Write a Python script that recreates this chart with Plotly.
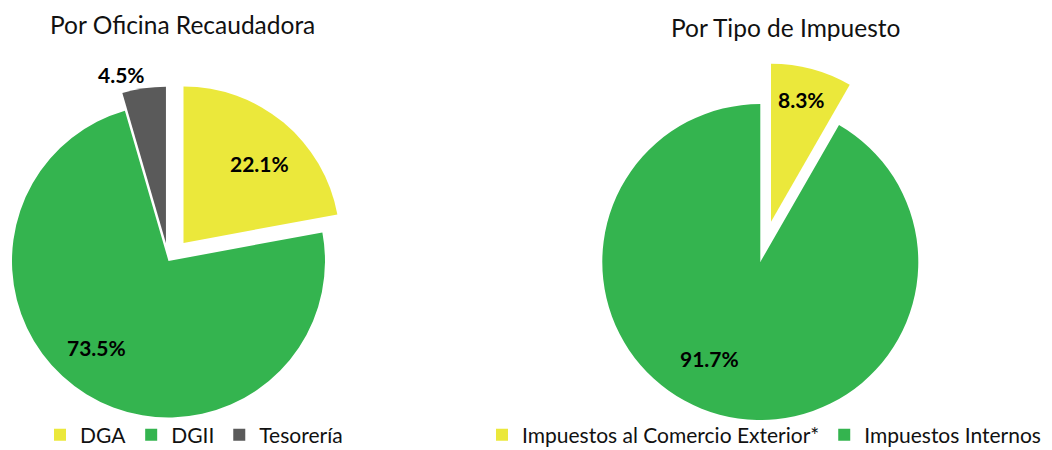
import math
import plotly.graph_objects as go

W, H = 1052, 450

# ---- data ----
oficina_title = "Por Oficina Recaudadora"
oficina_labels = ["DGA", "DGII", "Tesorería"]
oficina_values = [22.1, 73.5, 4.5]

tipo_title = "Por Tipo de Impuesto"
tipo_labels = ["Impuestos al Comercio Exterior*", "Impuestos Internos"]
tipo_values = [8.3, 91.7]

# ---- style ----
YELLOW, GREEN, GRAY = "#EBE83B", "#34B44F", "#5A5A5A"
oficina_colors = [YELLOW, GREEN, GRAY]
tipo_colors = [YELLOW, GREEN]
oficina_pull = [0.15, 0.0, 0.115]
tipo_pull = [0.263, 0.0]
# label placement relative to each slice's own vertex: (radius fraction, angle clockwise from 12 o'clock)
oficina_label_pos = [(0.705, 43.6), (0.717, 219.9), (1.117, 345.4)]
tipo_label_pos = [(0.795, 14.05), (0.689, 208.1)]

FONT = "Lato"
LABEL_FONT = dict(family=FONT, size=21, color="#000000", weight="bold")

fig = go.Figure()
annotations = []


def domain_for(cx, cy, r):
    return dict(x=[(cx - r) / W, (cx + r) / W], y=[1 - (cy + r) / H, 1 - (cy - r) / H])


def add_pie(labels, values, colors, pulls, label_pos, cx, cy, r, legend_name):
    """Each slice is its own pie trace so that pulled slices keep the full radius."""
    total = sum(values)
    start = 0.0
    for lab, v, col, p, (lf, la) in zip(labels, values, colors, pulls, label_pos):
        span = 360.0 * v / total
        mid = math.radians(start + span / 2)
        vx = cx + p * r * math.sin(mid)
        vy = cy - p * r * math.cos(mid)
        fig.add_trace(go.Pie(
            labels=[lab, lab + " (resto)"],
            values=[v, total - v],
            marker=dict(colors=[col, "rgba(0,0,0,0)"], line=dict(width=0)),
            textinfo="none",
            sort=False,
            direction="clockwise",
            rotation=start,
            domain=domain_for(vx, vy, r),
            showlegend=False,
            hoverinfo="skip",
        ))
        a = math.radians(la)
        annotations.append(dict(
            text=f"{v:.1f}%", xref="paper", yref="paper",
            x=(vx + lf * r * math.sin(a)) / W, y=1 - (vy - lf * r * math.cos(a)) / H,
            showarrow=False, font=LABEL_FONT, xanchor="center", yanchor="middle"))
        start += span
    # legend carrier (zero-size pie with the real colours)
    fig.add_trace(go.Pie(
        labels=labels, values=values,
        marker=dict(colors=colors),
        textinfo="none", sort=False, hoverinfo="skip",
        domain=domain_for(cx - r * 0.5, cy + r * 0.5, 0.001),
        showlegend=True, legend=legend_name,
    ))


add_pie(oficina_labels, oficina_values, oficina_colors, oficina_pull, oficina_label_pos,
        168.5, 261, 156.5, "legend")
add_pie(tipo_labels, tipo_values, tipo_colors, tipo_pull, tipo_label_pos,
        760.3, 262, 158, "legend2")

legend_common = dict(orientation="h", font=dict(family=FONT, size=21, color="#111111"),
                     bgcolor="rgba(0,0,0,0)", yanchor="middle", y=1 - 435 / H,
                     itemclick=False, itemdoubleclick=False)

for txt, x, y in [(oficina_title, 182, 24), (tipo_title, 785.5, 27)]:
    annotations.append(dict(text=txt, x=x / W, y=1 - y / H, xref="paper", yref="paper",
                            showarrow=False, font=dict(family=FONT, size=24.5, color="#111111"),
                            xanchor="center", yanchor="middle"))

fig.update_layout(
    width=W, height=H,
    margin=dict(l=0, r=0, t=0, b=0, autoexpand=False),
    paper_bgcolor="white", plot_bgcolor="white",
    legend=dict(**legend_common, x=40 / W, xanchor="left"),
    legend2=dict(**legend_common, x=482 / W, xanchor="left"),
    annotations=annotations,
)

fig.write_html("out.html", config={"displayModeBar": False},
               post_script="document.body.style.margin='0';document.body.style.overflow='hidden';")
